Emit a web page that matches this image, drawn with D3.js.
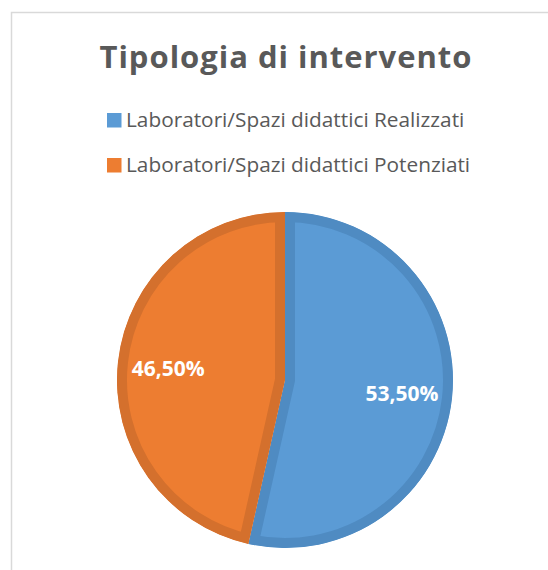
<!DOCTYPE html>
<html>
<head>
<meta charset="utf-8">
<script src="https://cdn.jsdelivr.net/npm/d3@7"></script>
<style>
  body { margin: 0; background: #fff; }
  svg { display: block; }
</style>
</head>
<body>
<div id="chart"></div>
<script>
// chart data
const categories = ["Laboratori/Spazi didattici Realizzati", "Laboratori/Spazi didattici Potenziati"];
const values = [53.5, 46.5];
const fills = ["#5b9bd5", "#ed7d31"];
const strokes = ["#4f8bc2", "#d4702d"];
const title = "Tipologia di intervento";

const width = 548, height = 570;
const cx = 285, cy = 380, radius = 168;

const svg = d3.select("#chart")
    .append("svg")
    .attr("width", width)
    .attr("height", height);

// chart frame (only top and left edges are in view)
svg.append("rect")
    .attr("x", 11.5)
    .attr("y", 12.5)
    .attr("width", 700)
    .attr("height", 700)
    .attr("fill", "#fff")
    .attr("stroke", "#d9d9d9")
    .attr("stroke-width", 1.5);

// title
const titleText = svg.append("text")
    .attr("x", 286)
    .attr("y", 68)
    .attr("text-anchor", "middle")
    .style("font-family", "'Open Sans', sans-serif")
    .style("font-weight", "bold")
    .style("font-size", "31px")
    .style("fill", "#595959")
    .text(title);
// spread letters to match the reference title width
const titleW = titleText.node().getComputedTextLength();
titleText.style("letter-spacing", ((372 - titleW) / (title.length - 1)) + "px");

// legend
const legend = svg.append("g")
    .attr("transform", "translate(107,0)");

const legendItems = legend.selectAll("g")
    .data(categories)
    .enter()
    .append("g")
    .attr("transform", (d, i) => `translate(0, ${127 + i * 45})`);

legendItems.append("rect")
    .attr("x", 0)
    .attr("y", -14)
    .attr("width", 14.5)
    .attr("height", 14.5)
    .attr("fill", (d, i) => fills[i]);

legendItems.append("text")
    .attr("x", 19)
    .attr("y", 0)
    .style("font-family", "'Open Sans', sans-serif")
    .style("font-size", "20.8px")
    .style("fill", "#595959")
    .text(d => d);

// pie
const pie = d3.pie().sort(null).value(d => d);
const arcs = pie(values);
const arc = d3.arc().innerRadius(0).outerRadius(radius);
const labelArc = d3.arc().innerRadius(radius * 0.7).outerRadius(radius * 0.7);

const g = svg.append("g")
    .attr("transform", `translate(${cx},${cy})`);

const defs = svg.append("defs");
arcs.forEach((a, i) => {
    defs.append("clipPath")
        .attr("id", "clip" + i)
        .append("path")
        .attr("d", arc(a));
});

// stroke drawn inside each slice only
g.selectAll("path.slice")
    .data(arcs)
    .enter()
    .append("path")
    .attr("class", "slice")
    .attr("d", arc)
    .attr("fill", (d, i) => fills[i])
    .attr("stroke", (d, i) => strokes[i])
    .attr("stroke-width", 20)
    .attr("stroke-linejoin", "miter")
    .attr("clip-path", (d, i) => `url(#clip${i})`);

// data labels
g.selectAll("text.label")
    .data(arcs)
    .enter()
    .append("text")
    .attr("class", "label")
    .attr("transform", d => {
        const c = labelArc.centroid(d);
        return `translate(${c[0]},${c[1] + 8.5})`;
    })
    .attr("text-anchor", "middle")
    .style("font-family", "'Open Sans', sans-serif")
    .style("font-weight", "bold")
    .style("font-size", "21px")
    .style("fill", "#fff")
    .text(d => d.data.toFixed(2).replace(".", ",") + "%");
</script>
</body>
</html>
